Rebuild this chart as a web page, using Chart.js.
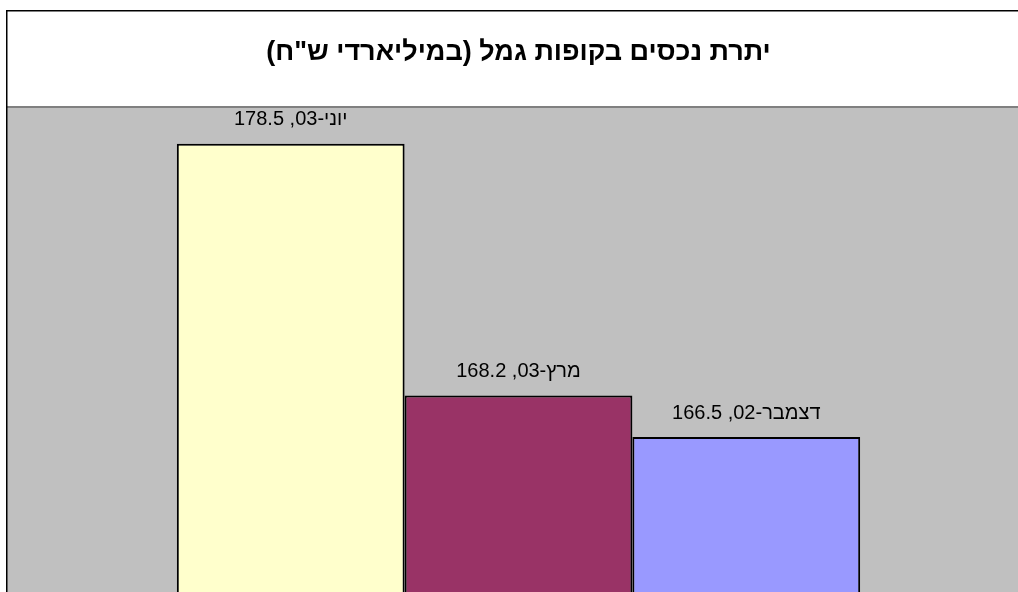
<!DOCTYPE html>
<html lang="he">
<head>
<meta charset="utf-8">
<script src="https://cdn.jsdelivr.net/npm/chart.js@4.4.0/dist/chart.umd.min.js"></script>
<style>
    html, body { margin: 0; padding: 0; overflow: hidden; background: #ffffff; }
    #grafico-gemel { position: absolute; left: 0; top: 0; direction: rtl; }
</style>
</head>
<body>
<canvas id="grafico-gemel" width="1036" height="600"></canvas>
<script>
// נתונים - יתרת נכסים בקופות גמל
const categories = [''];
const seriesNames = ['יוני-03', 'מרץ-03', 'דצמבר-02'];
const seriesValues = [178.5, 168.2, 166.5];
const titleText = 'יתרת נכסים בקופות גמל (במיליארדי ש"ח)';

const barColors = ['#FFFFCC', '#993366', '#9999FF'];

// רקע, מסגרת ואזור שרטוט אפור
const backgroundPlugin = {
    id: 'background',
    beforeDraw(chart) {
        const ctx = chart.ctx;
        const area = chart.chartArea;
        ctx.save();
        ctx.fillStyle = '#ffffff';
        ctx.fillRect(0, 0, chart.width, chart.height);
        ctx.fillStyle = '#C0C0C0';
        ctx.fillRect(area.left, area.top, area.right - area.left, area.bottom - area.top);
        ctx.strokeStyle = '#808080';
        ctx.lineWidth = 2;
        ctx.beginPath();
        ctx.moveTo(area.left, area.top);
        ctx.lineTo(chart.width, area.top);
        ctx.stroke();
        ctx.strokeStyle = '#000000';
        ctx.lineWidth = 1.5;
        ctx.strokeRect(6.75, 10.75, chart.width + 10, chart.height + 10);
        ctx.restore();
    }
};

// תוויות נתונים מעל העמודות
const labelsPlugin = {
    id: 'barLabels',
    afterDatasetsDraw(chart) {
        const ctx = chart.ctx;
        ctx.save();
        ctx.direction = 'rtl';
        ctx.font = '20px "Liberation Sans", Arial, sans-serif';
        ctx.fillStyle = '#000000';
        ctx.textAlign = 'center';
        ctx.textBaseline = 'middle';
        chart.data.datasets.forEach((ds, i) => {
            const bar = chart.getDatasetMeta(i).data[0];
            ctx.fillText(ds.label + ', ' + ds.data[0], bar.x, bar.y - 24);
        });
        ctx.restore();
    }
};

new Chart(document.getElementById('grafico-gemel'), {
    type: 'bar',
    data: {
        labels: categories,
        datasets: seriesNames.map((name, i) => ({
            label: name,
            data: [seriesValues[i]],
            backgroundColor: barColors[i],
            borderColor: '#000000',
            borderWidth: 2,
            borderSkipped: false
        }))
    },
    options: {
        responsive: false,
        animation: false,
        layout: {
            padding: { left: 7, right: 6, top: 0, bottom: 4 }
        },
        datasets: {
            bar: {
                categoryPercentage: 0.668,
                barPercentage: 1
            }
        },
        plugins: {
            legend: { display: false },
            tooltip: { enabled: false },
            title: {
                display: true,
                text: titleText,
                color: '#000000',
                font: { family: '"Liberation Sans", Arial, sans-serif', size: 27, weight: 'bold', lineHeight: 1.2 },
                padding: { top: 36, bottom: 38.6 }
            }
        },
        scales: {
            x: { display: false },
            y: { display: false, min: 160, max: 180 }
        }
    },
    plugins: [backgroundPlugin, labelsPlugin]
});
</script>
</body>
</html>
